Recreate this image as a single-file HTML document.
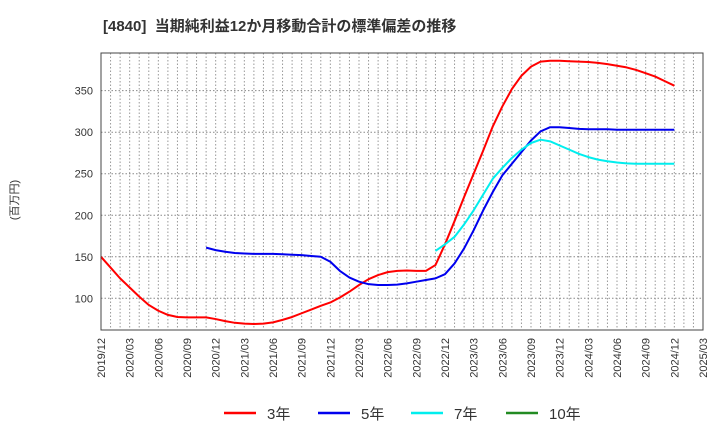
<!DOCTYPE html>
<html><head><meta charset="utf-8"><style>
body{margin:0;background:#fff;}
svg{display:block;font-family:"Liberation Sans","Noto Sans CJK JP",sans-serif;}
</style></head><body>
<svg id="chart" width="720" height="440">
<text x="103" y="31" font-size="15" font-weight="bold" fill="#333">[4840]&#160;&#160;当期純利益12か月移動合計の標準偏差の推移</text>
<text transform="translate(18,200) rotate(-90)" text-anchor="middle" font-size="11" fill="#333">(百万円)</text>
<g id="grid"></g><g id="series"></g><g id="axes"></g>
<g id="legend"></g>
</svg>
<script>
const yTicks=[100,150,200,250,300,350];
const xLabels=["2019/12","2020/03","2020/06","2020/09","2020/12","2021/03","2021/06","2021/09","2021/12","2022/03","2022/06","2022/09","2022/12","2023/03","2023/06","2023/09","2023/12","2024/03","2024/06","2024/09","2024/12","2025/03"];
const s3=[150,137,124,113,102,92,85,80,77.5,77,77,77,75,72.5,70.5,69.5,69,69.5,71,74,77.5,82,86.5,91,95,101,108,116,123,128,131.5,133,133.5,133,133,140,165,193,222,250,278,307,331,352,368,379,385,386,386,385.5,385,384.5,383.5,382,380,378,375,371,367,361.5,356];
const s5Start=11;
const s5=[161,158,156,154.5,154,153.5,153.5,153.5,153,152.5,152,151,150,144,133,125,120,117,116,116,116.5,118,120,122,124,129,142,160,182,206,228,248,262,276,290,301,306,306,305,304,303.5,303.5,303.5,303,303,303,303,303,303,303];
const s7Start=35;
const s7=[157,165,174,189,206,225,244,257,269,279,287,291,289,284,279,274,270,267,265,263.5,262.5,262,262,262,262,262];
const s10=[];
const X0=101,X1=703,Y0=53,Y1=330,NM=63;
const x=m=>X0+(X1-X0)*m/NM;
const y=v=>298.3-(v-100)*0.8305;
const NS="http://www.w3.org/2000/svg";
function mk(t,a,p){const e=document.createElementNS(NS,t);for(const k in a)e.setAttribute(k,a[k]);p.appendChild(e);return e;}
const grid=document.getElementById('grid'),axes=document.getElementById('axes'),ser=document.getElementById('series'),leg=document.getElementById('legend');
for(let m=1;m<NM;m++){const l=mk('line',{x1:x(m),x2:x(m),y1:Y0,y2:Y1,stroke:'#999','stroke-dasharray':'1.5,2','stroke-width':1},grid);

}
yTicks.forEach(v=>{const l=mk('line',{x1:X0,x2:X1,y1:y(v),y2:y(v),stroke:'#888','stroke-dasharray':'1.5,2','stroke-width':1},grid);


const t=mk('text',{x:X0-8,y:y(v)+4,'text-anchor':'end','font-size':11,fill:'#333'},axes);t.textContent=v;

});
xLabels.forEach((s,i)=>{const t=mk('text',{transform:`translate(${x(i*3)+4},338) rotate(-90)`,'text-anchor':'end','font-size':11,fill:'#333'},axes);t.textContent=s;

});
const f=mk('rect',{x:X0,y:Y0,width:X1-X0,height:Y1-Y0,fill:'none',stroke:'#444','stroke-width':1},axes);


function line(arr,start,col,name){if(!arr.length)return;const p=mk('polyline',{points:arr.map((v,i)=>x(start+i)+','+y(v)).join(' '),fill:'none',stroke:col,'stroke-width':2,'stroke-linejoin':'round'},ser);

}
line(s3,0,'#ff0000','series-3yr');
line(s5,s5Start,'#0000ee','series-5yr');
line(s7,s7Start,'#00eeee','series-7yr');
line(s10,0,'#228b22','series-10yr');
[['3年','#ff0000',224],['5年','#0000ee',318],['7年','#00eeee',411],['10年','#228b22',506]].forEach(([n,c,lx])=>{
const l=mk('line',{x1:lx,x2:lx+32,y1:413,y2:413,stroke:c,'stroke-width':2.5},leg);


const t=mk('text',{x:lx+43,y:419,'font-size':15,fill:'#333'},leg);t.textContent=n;

});
</script>
</body></html>
